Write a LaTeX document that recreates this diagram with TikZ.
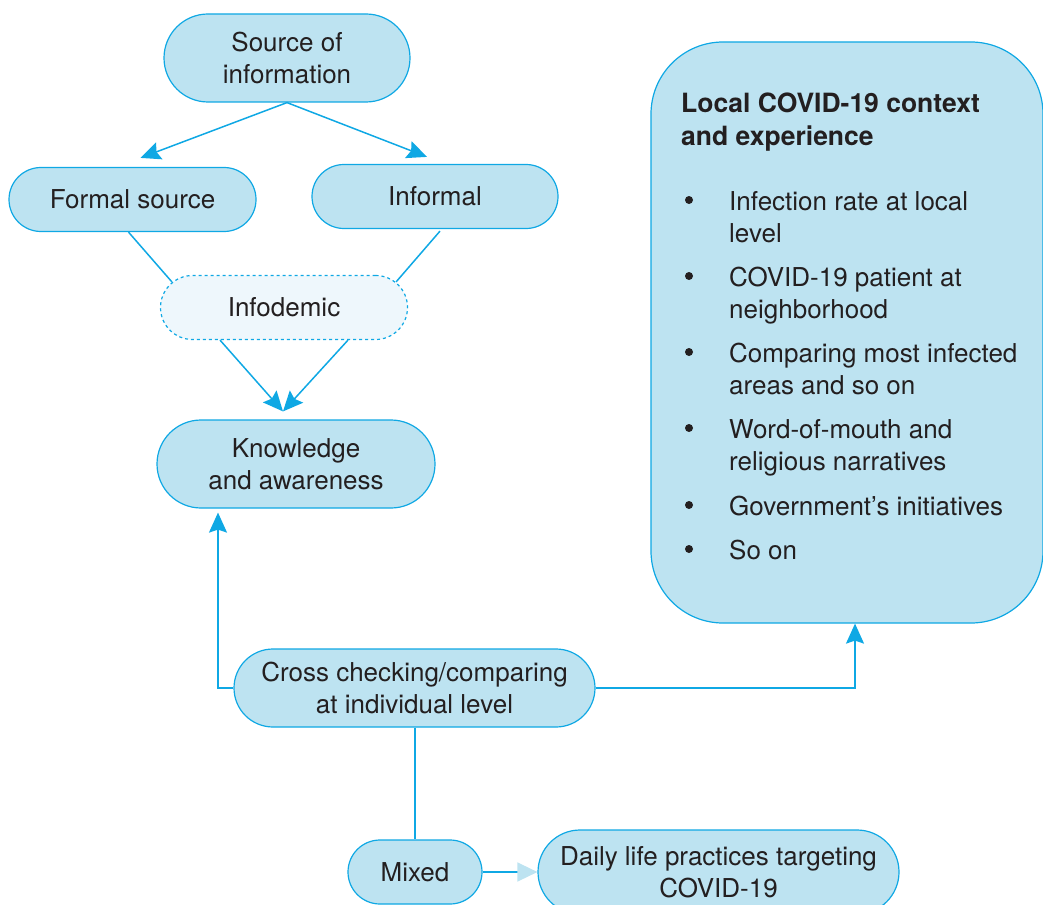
\documentclass[tikz,border=0pt]{standalone}
\usepackage{fontspec}
\setmainfont{TeX Gyre Heros}
\usetikzlibrary{arrows.meta,calc}
\definecolor{lc}{HTML}{0FA8E4}
\definecolor{bf}{HTML}{BDE3F1}
\definecolor{inff}{HTML}{EEF7FC}
\definecolor{tc}{HTML}{231F20}
\begin{document}
\begin{tikzpicture}[x=1pt,y=-1pt,
  font=\fontsize{26}{32}\selectfont, text=tc,
  pill/.style={draw=lc, fill=bf, line width=1.2pt, align=center, inner sep=0pt, rounded corners=#1},
  conn/.style={draw=lc, line width=1.5pt},
  arr/.style={conn, -{Stealth[length=20pt,width=18pt,inset=3pt]}},
  lbl/.style={anchor=base west, inner sep=0pt},
  bul/.style={circle, fill=tc, inner sep=0pt, minimum size=8pt}]
\useasboundingbox (0,0) rectangle (1043,904);

% nodes
\node[pill=44, minimum width=246pt, minimum height=88pt] (src) at (287,58) {Source of\\information};
\node[pill=32, minimum width=247pt, minimum height=64pt] (formal) at (132.5,199.5) {Formal source};
\node[pill=32, minimum width=246pt, minimum height=64pt] (informal) at (435,196.5) {Informal};
\node[pill=32, minimum width=247pt, minimum height=64pt, fill=inff, dashed] (info) at (284,307.5) {Infodemic};
\node[pill=44, minimum width=278pt, minimum height=88pt] (know) at (296,464) {Knowledge\\and awareness};
\node[pill=39, minimum width=361pt, minimum height=78pt] (cross) at (414.5,688) {Cross checking/comparing\\at individual level};
\node[pill=32, minimum width=134pt, minimum height=64pt] (mixed) at (415,872) {Mixed};
\node[pill=42, minimum width=361pt, minimum height=84pt] (daily) at (718.5,872) {Daily life practices targeting\\COVID-19};
\node[pill=72, minimum width=392pt, minimum height=581pt] (local) at (847,332.5) {};

% text in the local context box
\node[lbl, font=\fontsize{26.5}{32}\selectfont\bfseries] (t1) at (681,113) {Local COVID-19 context};
\node[lbl, font=\fontsize{26.5}{32}\selectfont\bfseries] (t2) at (681,146) {and experience};
\foreach \n/\c in {b1/200,b2/276,b3/352,b4/428,b5/505,b6/549}{
  \node[bul] (\n) at (689,\c) {};
}
\node[lbl] (l1a) at (729,210) {Infection rate at local};
\node[lbl] (l1b) at (729,242) {level};
\node[lbl] (l2a) at (729,286) {COVID-19 patient at};
\node[lbl] (l2b) at (729,318) {neighborhood};
\node[lbl] (l3a) at (729,362) {Comparing most infected};
\node[lbl] (l3b) at (729,394) {areas and so on};
\node[lbl] (l4a) at (729,438) {Word-of-mouth and};
\node[lbl] (l4b) at (729,470) {religious narratives};
\node[lbl] (l5) at (729,515) {Government’s initiatives};
\node[lbl] (l6) at (729,559) {So on};

% connectors
\coordinate (fa) at ($(formal.north)+(8,-9)$);
\coordinate (ia) at ($(informal.north)+(-8,-7)$);
\draw[arr] (src.south) -- (fa);
\draw[arr] (src.south) -- (ia);
\draw[conn] ($(formal.south)+(-4,0)$) -- ($(info.north west)+(12,7)$);
\draw[conn] ($(informal.south)+(5,2)$) -- ($(info.north east)+(-12,7)$);
\draw[arr] ($(info.south)+(-64,0)$) -- ($(know.north)+(-13,-8)$);
\draw[arr] ($(info.south)+(64,0)$) -- ($(know.north)+(-13,-8)$);
\draw[arr] (cross.west) -| ($(know.south)+(-78,4)$);
\draw[arr] (cross.east) -| ($(local.south)+(8,0)$);
\draw[conn] (cross.south -| mixed.north) -- (mixed.north);
\draw[conn, -{Triangle[length=20pt,width=19pt,color=bf]}] (mixed.east) -- (daily.west);
\end{tikzpicture}
\end{document}
